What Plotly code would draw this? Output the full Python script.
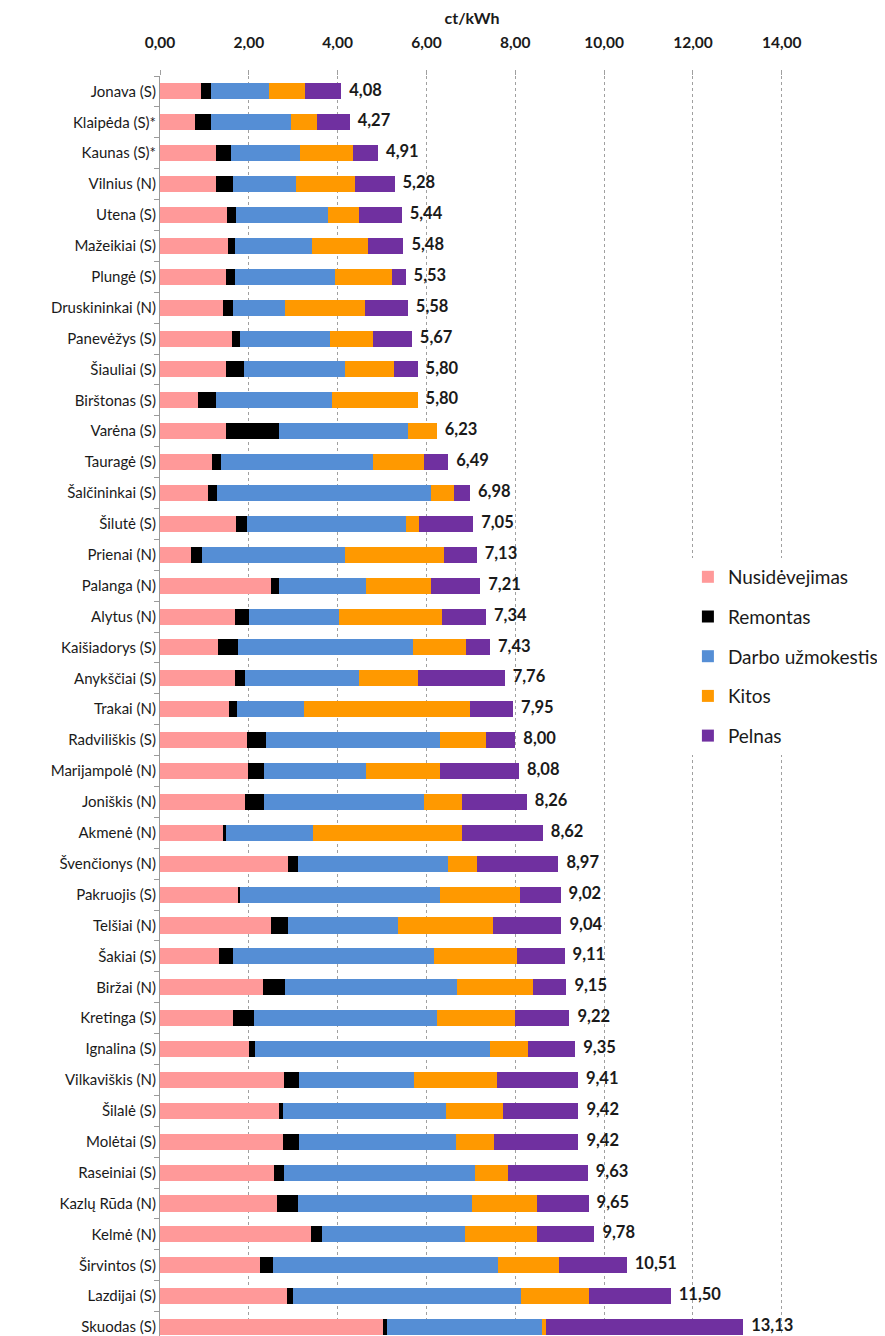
import plotly.graph_objects as go

categories = ["Jonava (S)", "Klaipėda (S)*", "Kaunas (S)*", "Vilnius (N)", "Utena (S)", "Mažeikiai (S)",
              "Plungė (S)", "Druskininkai (N)", "Panevėžys (S)", "Šiauliai (S)", "Birštonas (S)", "Varėna (S)",
              "Tauragė (S)", "Šalčininkai (S)", "Šilutė (S)", "Prienai (N)", "Palanga (N)", "Alytus (N)",
              "Kaišiadorys (S)", "Anykščiai (S)", "Trakai (N)", "Radviliškis (S)", "Marijampolė (N)",
              "Joniškis (N)", "Akmenė (N)", "Švenčionys (N)", "Pakruojis (S)", "Telšiai (N)", "Šakiai (S)",
              "Biržai (N)", "Kretinga (S)", "Ignalina (S)", "Vilkaviškis (N)", "Šilalė (S)", "Molėtai (S)",
              "Raseiniai (S)", "Kazlų Rūda (N)", "Kelmė (N)", "Širvintos (S)", "Lazdijai (S)", "Skuodas (S)"]

nusidevejimas = [0.92, 0.79, 1.26, 1.26, 1.51, 1.52, 1.48, 1.41, 1.63, 1.48, 0.86, 1.48, 1.17, 1.08, 1.70,
                 0.69, 2.49, 1.68, 1.31, 1.68, 1.56, 1.96, 1.99, 1.92, 1.41, 2.88, 1.76, 2.49, 1.32, 2.31,
                 1.64, 2.01, 2.80, 2.67, 2.77, 2.57, 2.64, 3.39, 2.25, 2.87, 5.01]
remontas = [0.23, 0.36, 0.33, 0.38, 0.19, 0.16, 0.20, 0.24, 0.18, 0.42, 0.40, 1.20, 0.21, 0.20, 0.27,
            0.26, 0.18, 0.33, 0.44, 0.24, 0.17, 0.42, 0.35, 0.42, 0.07, 0.22, 0.05, 0.39, 0.32, 0.50,
            0.48, 0.13, 0.34, 0.10, 0.36, 0.23, 0.47, 0.26, 0.29, 0.13, 0.09]
darbo = [1.31, 1.79, 1.56, 1.42, 2.09, 1.75, 2.26, 1.16, 2.02, 2.26, 2.61, 2.90, 3.42, 4.83, 3.58,
         3.21, 1.97, 2.02, 3.94, 2.55, 1.51, 3.93, 2.30, 3.60, 1.97, 3.38, 4.50, 2.48, 4.53, 3.87,
         4.11, 5.29, 2.57, 3.66, 3.53, 4.30, 3.92, 3.21, 5.06, 5.13, 3.51]
kitos = [0.81, 0.59, 1.19, 1.34, 0.70, 1.25, 1.29, 1.80, 0.97, 1.11, 1.93, 0.65, 1.14, 0.50, 0.29,
         2.24, 1.46, 2.32, 1.21, 1.33, 3.73, 1.03, 1.67, 0.87, 3.34, 0.66, 1.80, 2.14, 1.86, 1.72,
         1.76, 0.86, 1.87, 1.30, 0.87, 0.74, 1.46, 1.63, 1.38, 1.53, 0.09]
pelnas = [0.81, 0.74, 0.57, 0.88, 0.95, 0.80, 0.30, 0.97, 0.87, 0.53, 0.00, 0.00, 0.55, 0.37, 1.21,
          0.73, 1.11, 0.99, 0.53, 1.96, 0.98, 0.66, 1.77, 1.45, 1.83, 1.83, 0.91, 1.54, 1.08, 0.75,
          1.23, 1.06, 1.83, 1.69, 1.89, 1.79, 1.16, 1.29, 1.53, 1.84, 4.43]
totals = [4.08, 4.27, 4.91, 5.28, 5.44, 5.48, 5.53, 5.58, 5.67, 5.80, 5.80, 6.23, 6.49, 6.98, 7.05,
          7.13, 7.21, 7.34, 7.43, 7.76, 7.95, 8.00, 8.08, 8.26, 8.62, 8.97, 9.02, 9.04, 9.11, 9.15,
          9.22, 9.35, 9.41, 9.42, 9.42, 9.63, 9.65, 9.78, 10.51, 11.50, 13.13]
total_labels = ["  " + f"{v:.2f}".replace(".", ",") for v in totals]

series = [
    ("Nusidėvejimas", nusidevejimas, "#FF9999"),
    ("Remontas", remontas, "#000000"),
    ("Darbo užmokestis", darbo, "#558ED5"),
    ("Kitos", kitos, "#FF9900"),
    ("Pelnas", pelnas, "#7030A0"),
]

FONT = "Lato"
W, H = 877, 1328  # page body has an 8px margin; figure drawn at (8, 8)
fig = go.Figure()
for name, vals, col in series:
    fig.add_trace(go.Bar(
        y=categories, x=vals, name=name, orientation="h",
        marker=dict(color=col, line=dict(width=0)),
        legendgroup=name, hoverinfo="x+name",
    ))

fig.add_trace(go.Scatter(
    y=categories, x=totals, mode="text", text=total_labels,
    textposition="middle right", showlegend=False,
    textfont=dict(family=FONT, size=16.5, color="#1a1a1a", weight="bold"),
    cliponaxis=False,
))

fig.update_layout(
    width=W, height=H,
    barmode="stack", bargap=0.48,
    separators=", ",
    paper_bgcolor="white", plot_bgcolor="white",
    margin=dict(l=152, r=101, t=68, b=0, autoexpand=False),
    font=dict(family=FONT, size=15, color="#1a1a1a"),
    title=dict(text="<b>ct/kWh</b>", x=0.5, xref="paper", xanchor="center",
               y=1 - 10 / H, yref="container", yanchor="middle",
               font=dict(family=FONT, size=16, color="#1a1a1a")),
    legend=dict(
        x=0.846, y=0.6175, xanchor="left", yanchor="top",
        bgcolor="white", traceorder="grouped", tracegroupgap=12,
        font=dict(family=FONT, size=19, color="#1a1a1a"),
        itemwidth=30,
    ),
    xaxis=dict(
        side="top", range=[0, 14.05], dtick=2, tick0=0, tickformat=".2f",
        showgrid=True, gridcolor="#a0a0a0", griddash="dot", gridwidth=1,
        showline=False, ticks="outside", ticklen=5, tickcolor="#a0a0a0",
        ticklabelstandoff=16, automargin=False,
        tickfont=dict(family=FONT, size=15.5, color="#1a1a1a", weight="bold"),
        zeroline=False, fixedrange=True,
    ),
    yaxis=dict(
        type="category", range=[40.29, -0.5],
        showline=True, linecolor="#9a9a9a", linewidth=1, automargin=False,
        ticks="outside", ticklen=5, tickcolor="#9a9a9a", tickson="boundaries",
        tickfont=dict(family=FONT, size=15, color="#1a1a1a"),
        showgrid=False, fixedrange=True,
    ),
)

fig.write_html("out.html")
